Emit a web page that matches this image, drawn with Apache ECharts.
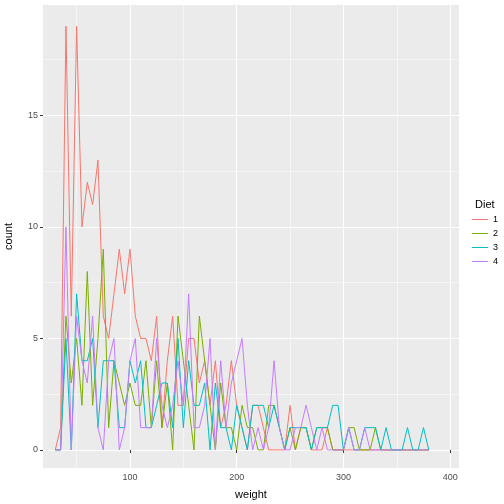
<!DOCTYPE html>
<html><head><meta charset="utf-8">
<script src="https://cdn.jsdelivr.net/npm/echarts@6/dist/echarts.min.js"></script>
<style>html,body{margin:0;padding:0;background:#fff}#c{width:504px;height:504px}</style>
</head><body><div id="c"></div>
<script>
const weights = []; for (let w = 30; w <= 380; w += 5) weights.push(w);
const diet1 = [0,1,19,6,19,10,12,11,13,6,5,7,9,7,9,6,5,5,4,6,1,4,6,2,2,5,5,3,4,2,4,1,2,4,2,1,0,2,2,1,0,0,0,0,2,0,1,1,0,0,0,1,0,0,0,0,0,0,0,0,0,0,0,0,0,0,0,0,0,0,0];
const diet2 = [0,0,6,3,5,2,8,2,5,9,1,4,3,2,3,2,2,4,1,4,1,3,0,6,4,2,0,6,4,2,0,3,1,1,0,2,1,1,0,0,2,2,1,0,1,0,1,1,0,1,1,1,0,0,0,1,1,0,0,0,1,0,0,0,0,0,0,0,0,0,0];
const diet3 = [0,0,5,0,7,4,4,5,1,4,4,4,1,1,4,3,4,1,1,2,3,3,1,5,1,4,2,2,3,0,3,1,1,0,2,1,0,2,2,2,1,2,1,0,1,1,1,1,0,1,1,1,2,2,0,1,0,0,1,1,1,0,1,0,0,0,1,0,0,1,0];
const diet4 = [0,0,10,0,6,4,3,6,1,0,4,5,0,1,4,5,1,1,1,5,2,1,2,4,2,7,1,1,2,5,0,4,1,3,4,5,2,0,1,0,1,4,1,0,0,1,1,2,1,0,1,0,0,0,0,1,0,0,1,0,0,0,0,0,0,0,0,0,0,0,0];
const dietNames = ['1','2','3','4'];
const colors = ['#F8766D','#7CAE00','#00BFC4','#C77CFF'];
const xTicks = [100,200,300,400], xMinor = [50,150,250,350];
const yTicks = [0,5,10,15], yMinor = [2.5,7.5,12.5,17.5];
const all = [diet1,diet2,diet3,diet4];
const grid = {left:43,right:45,top:5,bottom:36,backgroundColor:'#EBEBEB',show:true,borderWidth:0,containLabel:false,outerBoundsMode:'none'};
const xr = {min:18.5,max:408.3}, yr = {min:-0.81,max:19.95};
const chart = echarts.init(document.getElementById('c'));
chart.setOption({
  animation:false,
  grid:[grid],
  title:{text:'Diet',left:470,top:194,textStyle:{fontSize:11,fontWeight:'normal',color:'#000',fontFamily:'Liberation Sans'}},
  legend:{orient:'vertical',left:467,top:210,itemGap:5,itemWidth:16,itemHeight:13,icon:'path://M0,6H16V7H0Z',
    textStyle:{fontSize:9,color:'#000',fontFamily:'Liberation Sans'},data:dietNames},
  xAxis:[
    {type:'value',...xr,name:'weight',nameLocation:'middle',nameGap:21,nameTextStyle:{fontSize:11,color:'#000',fontFamily:'Liberation Sans'},
     axisLine:{show:false},axisTick:{show:true,customValues:xTicks,length:3,lineStyle:{color:'#333'}},
     axisLabel:{customValues:xTicks,fontSize:9,color:'#4D4D4D',margin:5,fontFamily:'Liberation Sans'},
     splitLine:{show:true,lineStyle:{color:'#fff',width:1.1}}},
    {type:'value',...xr,position:'bottom',axisLine:{show:false},axisTick:{show:false,customValues:xMinor},axisLabel:{show:false,customValues:xMinor},
     splitLine:{show:true,lineStyle:{color:'#fff',width:0.5}}}
  ],
  yAxis:[
    {type:'value',...yr,name:'count',nameLocation:'middle',nameGap:29,nameTextStyle:{fontSize:11,color:'#000',fontFamily:'Liberation Sans'},
     axisLine:{show:false},axisTick:{show:true,customValues:yTicks,length:3,lineStyle:{color:'#333'}},
     axisLabel:{customValues:yTicks,fontSize:9,color:'#4D4D4D',margin:5,fontFamily:'Liberation Sans'},
     splitLine:{show:true,lineStyle:{color:'#fff',width:1.1}}},
    {type:'value',...yr,axisLine:{show:false},axisTick:{show:false,customValues:yMinor},axisLabel:{show:false,customValues:yMinor},
     splitLine:{show:true,lineStyle:{color:'#fff',width:0.5}}}
  ],
  series: all.map((d,i)=>({name:dietNames[i],type:'line',symbol:'none',color:colors[i],
    lineStyle:{width:1,color:colors[i]},data:weights.map((w,j)=>[w,d[j]])}))
});
</script></body></html>
